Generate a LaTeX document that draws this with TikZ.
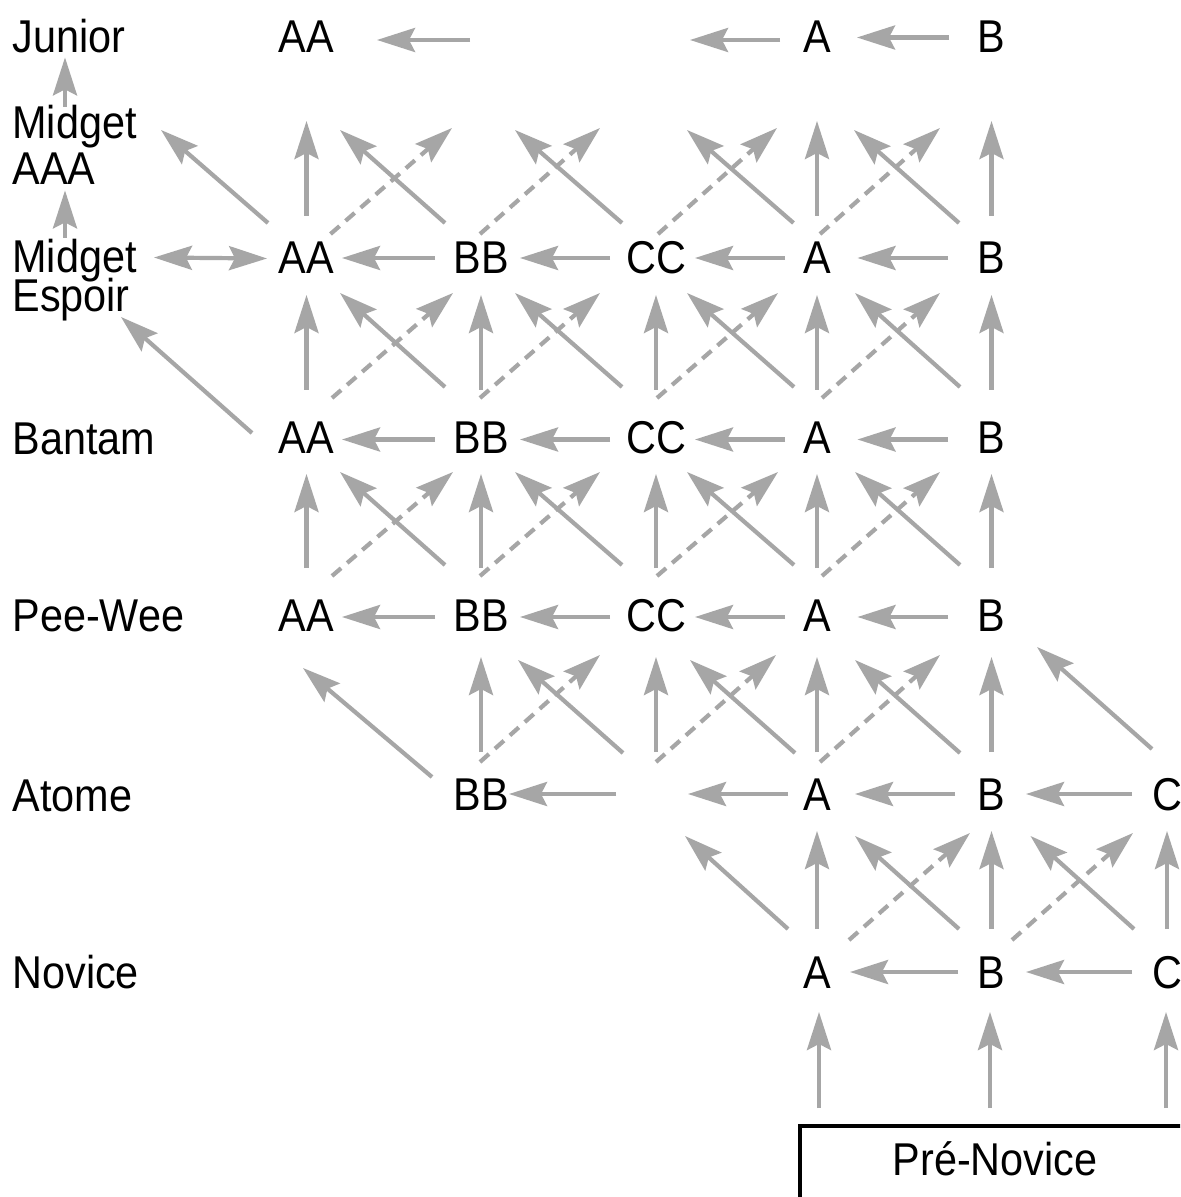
\documentclass[tikz,border=0pt]{standalone}
\usepackage{fontspec}
\setmainfont{Liberation Sans}[FakeStretch=0.9]
\usetikzlibrary{arrows.meta,calc}
\definecolor{linkgray}{RGB}{166,166,166}

\tikzset{
  >={Stealth[length=19pt,width=12pt,inset=3pt]},
  txt/.style={font=\fontsize{23pt}{23pt}\selectfont, inner sep=0pt,
              text height=16.5pt, text depth=0pt},
  lab/.style={txt, anchor=base west},
  gn/.style={txt, anchor=center},
  link/.style={draw=linkgray, line width=2.1pt, ->},
  dlink/.style={link, dash pattern=on 6pt off 4pt},
}

% connector between two named points, each with its own offset
\newcommand\lk[5][link]{\draw[#1] ($(#2)+(#3)$) -- ($(#4)+(#5)$);}

% arrows inside one row: AA <- BB <- CC <- A <- B
\newcommand\stdrow[2]{%
  \lk{#1-BB}{-46,#2}{#1-AA}{35.5,#2}
  \lk{#1-CC}{-46,#2}{#1-BB}{39,#2}
  \lk{#1-A}{-32,#2}{#1-CC}{39,#2}
  \lk{#1-B}{-43.5,#2}{#1-A}{40.5,#2}}

% arrows between two full rows (lower #1, upper #2)
\newcommand\stdband[2]{%
  \foreach \c in {AA,BB,CC,A,B}{\lk{#1-\c}{0,-46.5}{#2-\c}{0,37.5}}
  \lk{#1-BB}{-36,-49.5}{#2-AA}{33.5,35.5}
  \lk{#1-CC}{-34,-49.5}{#2-BB}{34,35.5}
  \lk{#1-A}{-23,-49.5}{#2-CC}{31,35.5}
  \lk{#1-B}{-31.5,-49.5}{#2-A}{38,35.5}
  \lk[dlink]{#1-AA}{25.5,-38.5}{#2-BB}{-28,35.5}
  \lk[dlink]{#1-BB}{-1,-38.5}{#2-CC}{-56,35.5}
  \lk[dlink]{#1-CC}{1,-38.5}{#2-A}{-39,35.5}
  \lk[dlink]{#1-A}{5,-38.5}{#2-B}{-51.5,35.5}}

\begin{document}
\begin{tikzpicture}[x=0.5pt,y=-0.5pt]
\useasboundingbox (0,0) rectangle (1180,1197);
\fill[white] (0,0) rectangle (1180,1197);
\clip (0,0) rectangle (1180,1197);

% ---- category labels ----
\node[lab] (lJunior) at (12,53) {Junior};
\node[lab] (lMidA1) at (12,139) {Midget};
\node[lab] (lMidA2) at (12,185) {AAA};
\node[lab] (lMidE1) at (12,273) {Midget};
\node[lab] (lMidE2) at (12,312) {Espoir};
\node[lab] (lBantam) at (12,454) {Bantam};
\node[lab] (lPeeWee) at (12,631) {Pee-Wee};
\node[lab] (lAtome) at (12,811) {Atome};
\node[lab] (lNovice) at (12,988) {Novice};

% ---- class grid ----
\node[gn] (jr-AA) at (306.5,36.5) {AA};
\coordinate (jr-BB) at (481,36.5);
\coordinate (jr-CC) at (656,36.5);
\node[gn] (jr-A) at (817,36.5) {A};
\node[gn] (jr-B) at (991.5,36.5) {B};

\foreach \c/\x in {AA/306.5,BB/481,CC/656,A/817,B/991.5}
  \coordinate (aaa-\c) at (\x,85);

\foreach \r/\y in {me/257.5,ba/436.5,pw/614.5}{
  \foreach \c/\x in {AA/306.5,BB/481,CC/656,A/817,B/991.5}{
    \node[gn] (\r-\c) at (\x,\y) {\c};
  }
}

\node[gn] (at-BB) at (481,794) {BB};
\coordinate (at-CC) at (656,794);
\node[gn] (at-A) at (817,794) {A};
\node[gn] (at-B) at (991.5,794) {B};
\node[gn] (at-C) at (1167,794) {C};

\node[gn] (no-A) at (817,971.5) {A};
\node[gn] (no-B) at (991.5,971.5) {B};
\node[gn] (no-C) at (1167,971.5) {C};

\node[draw=black, line width=1.8pt, outer sep=0pt,
      font=\fontsize{23pt}{23pt}\selectfont,
      inner xsep=0pt, inner ysep=8.25pt, text height=16.5pt, text depth=30pt,
      minimum width=195pt, anchor=north west] (pn) at (800,1126) {Pré-Novice};

% ---- label column ----
\lk{lMidA1.north west}{53,1}{lJunior.south west}{53,4}
\lk{lMidE1.north west}{53,-2}{lMidA2.south west}{53,5}
\lk[link,<->]{lMidE1.west}{142,1}{me-AA}{-39.5,1}

% ---- Junior row ----
\lk{jr-BB}{-11,3.5}{jr-AA}{70.5,3.5}
\lk{jr-A}{-37,3.5}{jr-CC}{34,3.5}
\lk{jr-B}{-42.5,1}{jr-A}{40,1}

% ---- Midget Espoir -> Midget AAA ----
\lk{me-AA}{-38.5,-34.5}{lMidA1.west}{149,7.5}
\foreach \c in {AA,A,B}{\lk{me-\c}{0,-41.5}{aaa-\c}{0,36}}
\lk{me-BB}{-36,-34.5}{aaa-AA}{33.5,45}
\lk{me-CC}{-34,-34.5}{aaa-BB}{34,45}
\lk{me-A}{-23.5,-34.5}{aaa-CC}{31,45}
\lk{me-B}{-32.5,-34.5}{aaa-A}{37,45}
\lk[dlink]{me-AA}{24,-23.5}{aaa-BB}{-29,43}
\lk[dlink]{me-BB}{-1,-23.5}{aaa-CC}{-56,43}
\lk[dlink]{me-CC}{2,-23.5}{aaa-A}{-40,43}
\lk[dlink]{me-A}{3,-23.5}{aaa-B}{-51.5,43}

% ---- Midget Espoir / Bantam / Pee-Wee ----
\stdrow{me}{0.5}
\lk{ba-AA}{-54.5,-3.5}{lMidE2.west}{109,21.5}
\stdband{ba}{me}
\stdrow{ba}{3}
\stdband{pw}{ba}
\stdrow{pw}{2.5}

% ---- Atome -> Pee-Wee ----
\lk{at-BB}{-49,-17}{pw-AA}{-3.5,53.5}
\foreach \c in {BB,CC,A,B}{\lk{at-\c}{0,-42}{pw-\c}{0,42.5}}
\lk{at-CC}{-33,-41}{pw-BB}{37,45.5}
\lk{at-A}{-22,-41}{pw-CC}{34,45.5}
\lk{at-B}{-31.5,-41}{pw-A}{38,45.5}
\lk{at-C}{-15,-45}{pw-B}{45.5,32.5}
\lk[dlink]{at-BB}{-1,-32}{pw-CC}{-56,40.5}
\lk[dlink]{at-CC}{0,-32}{pw-A}{-41,40.5}
\lk[dlink]{at-A}{3,-32}{pw-B}{-51.5,40.5}

% ---- Atome row ----
\lk{at-CC}{-40,0}{at-BB}{28,0}
\lk{at-A}{-29,0}{at-CC}{32,0}
\lk{at-B}{-36.5,0}{at-A}{38,0}
\lk{at-C}{-35,0}{at-B}{34.5,0}

% ---- Novice -> Atome ----
\foreach \c in {A,B,C}{\lk{no-\c}{0,-42.5}{at-\c}{0,37}}
\lk{no-A}{-29,-42.5}{at-CC}{29,42}
\lk{no-B}{-32.5,-42.5}{at-A}{38,42}
\lk{no-C}{-33,-42.5}{at-B}{39,42}
\lk[dlink]{no-A}{32,-31.5}{at-B}{-21.5,39}
\lk[dlink]{no-B}{20.5,-31.5}{at-C}{-34,39}

% ---- Novice row ----
\lk{no-B}{-33.5,0.5}{no-A}{33,0.5}
\lk{no-C}{-35,0.5}{no-B}{34.5,0.5}

% ---- Pré-Novice -> Novice ----
\lk{pn.north west}{19,-18}{no-A}{2,40.5}
\lk{pn.north west}{190,-18}{no-B}{-1.5,40.5}
\lk{pn.north west}{366,-18}{no-C}{-1,40.5}
\end{tikzpicture}
\end{document}
